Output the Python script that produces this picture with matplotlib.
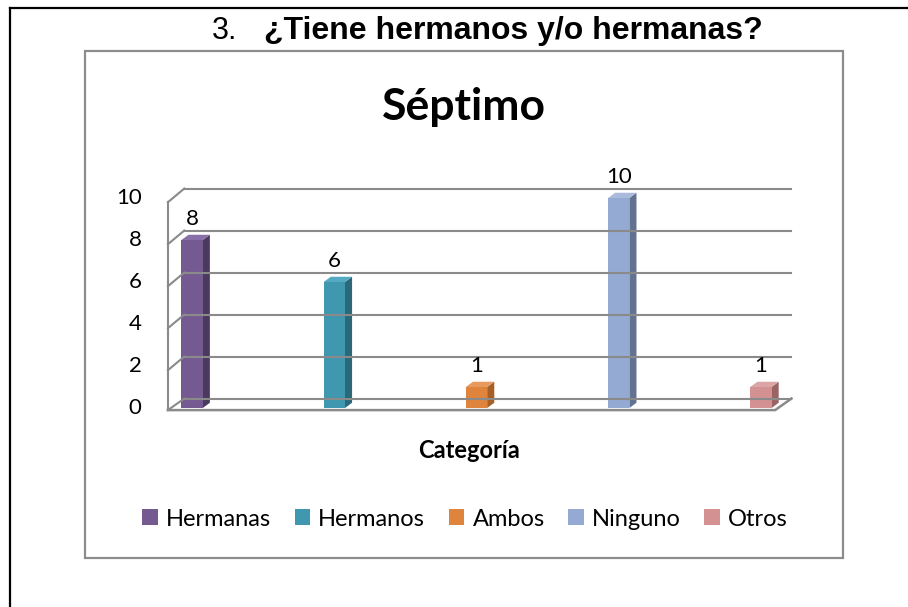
import matplotlib
matplotlib.use("Agg")
import matplotlib.pyplot as plt
from matplotlib.patches import Rectangle, Polygon
from matplotlib.lines import Line2D

categories = ["Hermanas", "Hermanos", "Ambos", "Ninguno", "Otros"]
values = [8, 6, 1, 10, 1]
front_colors = ["#755a92", "#4097b0", "#df843c", "#95aad2", "#d49192"]
side_colors = ["#4a3a5e", "#2b6879", "#a55f27", "#627392", "#9b6464"]
top_colors = ["#8a70a8", "#55a9c2", "#e89a5e", "#aabbdd", "#dba5a6"]
yticks = [0, 2, 4, 6, 8, 10]

W, H = 908, 607
fig = plt.figure(figsize=(W / 100, H / 100), dpi=100)


def fx(px):
    return px / W


def fy(py):
    return 1 - py / H


# outer page border (left and top) and chart frame
fig.add_artist(Line2D([fx(10), fx(10)], [0, fy(8)], color="black", lw=1.6))
fig.add_artist(Line2D([fx(10), 1], [fy(8), fy(8)], color="black", lw=1.6))
fig.add_artist(Rectangle((fx(85), fy(558)), fx(843) - fx(85), fy(51) - fy(558),
                         fill=False, edgecolor="#8c8c8c", lw=1.6))

# title
fig.text(fx(237), fy(31), "3.", fontsize=22, family="Liberation Sans",
         ha="right", va="center")
fig.text(fx(264), fy(31), "¿Tiene hermanos y/o hermanas?", fontsize=23,
         family="Liberation Sans", weight="bold", ha="left", va="center")

# axes: x = category index, y = value (front plane)
ax = fig.add_axes([fx(121), fy(408), fx(832) - fx(121), fy(198) - fy(408)])
ax.set_xlim(-0.5, 4.5)
ax.set_ylim(0, 10)
ax.axis("off")

grid_col = "#8a8a8a"
dx, dy = 0.115, 0.45          # wall depth in data units
x0, x1 = -0.17, 4.1           # floor extent
bw = 0.15                     # bar width
bdx, bdy = 0.05, 0.25         # bar depth

# left wall front edge and ticks
ax.plot([x0, x0], [-0.1, 9.8], color=grid_col, lw=1.5, clip_on=False)
for v in yticks:
    ax.plot([x0, x0 + dx], [v - 0.1 if v == 0 else v - 0.2, v + dy],
            color=grid_col, lw=1.5, clip_on=False)
    ax.plot([x0 + dx, x1 + dx], [v + dy, v + dy], color=grid_col, lw=1.5,
            clip_on=False)
    ax.text(x0 - 0.185, v, str(v), ha="right", va="center", fontsize=16,
            family="Lato")
# floor
ax.plot([x0, x1, x1 + dx], [-0.1, -0.1, dy], color=grid_col, lw=1.8,
        clip_on=False)

# bars
for i, v in enumerate(values):
    l, r = i - bw / 2, i + bw / 2
    ax.add_patch(Polygon([(r, 0), (r + bdx, bdy), (r + bdx, v + bdy), (r, v)],
                         closed=True, facecolor=side_colors[i], edgecolor="none",
                         clip_on=False))
    ax.add_patch(Polygon([(l, v), (r, v), (r + bdx, v + bdy), (l + bdx, v + bdy)],
                         closed=True, facecolor=top_colors[i], edgecolor="none",
                         clip_on=False))
    ax.add_patch(Rectangle((l, 0), bw, v, facecolor=front_colors[i],
                           edgecolor="none", clip_on=False))
    ax.text(i, v + 1.0, str(v), ha="center", va="center", fontsize=16,
            family="Lato")

# chart title and axis title
fig.text(fx(464), fy(107), "Séptimo", fontsize=32, family="Lato",
         weight="bold", ha="center", va="center")
fig.text(fx(469), fy(451), "Categoría", fontsize=17, family="Lato",
         weight="bold", ha="center", va="center")

handles = [Rectangle((0, 0), 1, 1, facecolor=c, edgecolor="none")
           for c in front_colors]
fig.legend(handles, categories, loc="center", bbox_to_anchor=(fx(465), fy(519)),
           ncol=5, frameon=False, prop={"family": "Lato", "size": 17},
           handlelength=0.65, handleheight=0.65, handletextpad=0.35,
           columnspacing=1.0)

fig.savefig("out.png", dpi=100)
